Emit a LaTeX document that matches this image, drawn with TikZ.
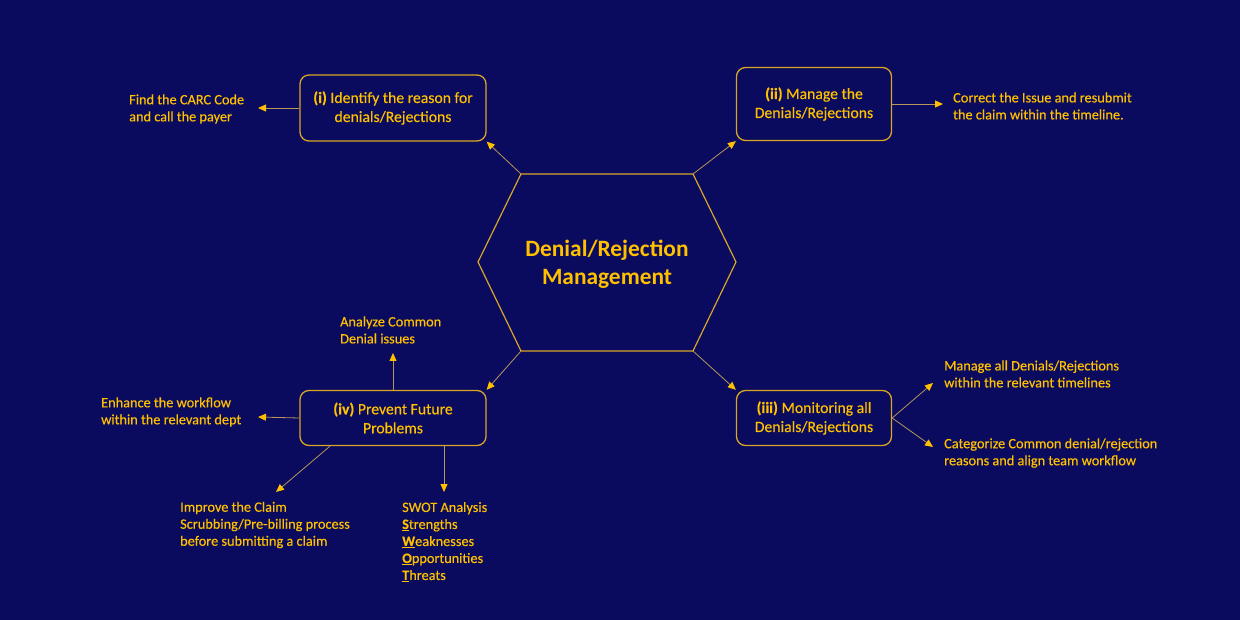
\documentclass[tikz,border=0pt]{standalone}
\usepackage{fontspec}
\setmainfont{Carlito}
\newfontfamily\heavyfont{Carlito}[FakeBold=0.35]
\usetikzlibrary{arrows.meta}
\tikzset{>={Triangle[length=8pt,width=7pt,color=gold]}}
\definecolor{navy}{HTML}{0A0A5E}
\definecolor{gold}{HTML}{FFC000}
\definecolor{rim}{HTML}{D9A626}
\definecolor{wire}{HTML}{B8975A}

\begin{document}
\begin{tikzpicture}[x=1pt,y=-1pt,
    box/.style = {draw=rim, line width=1.3pt, rounded corners=9pt, text=gold, align=center, inner sep=0pt, font=\heavyfont\fontsize{15.7}{19}\selectfont},
    leaf/.style = {text=gold, align=left, anchor=west, inner sep=0pt, font=\heavyfont\fontsize{14.3}{17}\selectfont},
    link/.style = {draw=wire, line width=0.8pt, ->}]
    \fill[navy] (0,0) rectangle (1240,620);
    \useasboundingbox (0,0) rectangle (1240,620);
    % centre hexagon
    \coordinate (h1) at (478,262);
    \coordinate (h2) at (521,174);
    \coordinate (h3) at (693,174);
    \coordinate (h4) at (736,262);
    \coordinate (h5) at (693,351);
    \coordinate (h6) at (521,351);
    \draw[rim, line width=1.2pt] (h1) -- (h2) -- (h3) -- (h4) -- (h5) -- (h6) -- cycle;
    \node[text=gold, align=center, font=\fontsize{23.4}{28}\selectfont\bfseries] (hub) at (607,264) {Denial/Rejection\\Management};
    % the four steps
    \node[box, minimum width=186pt, minimum height=66pt] (s1) at (393,108) {\textbf{(i)} Identify the reason for\\denials/Rejections};
    \node[box, minimum width=155pt, minimum height=73pt] (s2) at (814,104) {\textbf{(ii)} Manage the\\Denials/Rejections};
    \node[box, minimum width=155pt, minimum height=55pt] (s3) at (814,418) {\textbf{(iii)} Monitoring all\\Denials/Rejections};
    \node[box, minimum width=186pt, minimum height=55pt] (s4) at (393,418) {\textbf{(iv)} Prevent Future\\Problems};
    \draw[link] (h2) -- (s1.south east);
    \draw[link] (h3) -- (s2.south west);
    \draw[link] (h5) -- (s3.north west);
    \draw[link] (h6) -- (s4.north east);
    % actions
    \node[leaf] (a1) at (129,109) {Find the CARC Code\\and call the payer};
    \node[leaf] (b1) at (953,106) {Correct the Issue and resubmit\\the claim within the timeline.};
    \node[leaf] (c1) at (944,374) {Manage all Denials/Rejections\\within the relevant timelines};
    \node[leaf] (c2) at (944,453) {Categorize Common denial/rejection\\reasons and align team workflow};
    \node[leaf] (d1) at (340,330) {Analyze Common\\Denial issues};
    \node[leaf] (d2) at (101,412) {Enhance the workflow\\within the relevant dept};
    \node[leaf] (d3) at (180,525) {Improve the Claim\\Scrubbing/Pre-billing process\\before submitting a claim};
    \node[leaf] (d4) at (402,542) {SWOT Analysis\\\underline{\textbf{S}}trengths\\\underline{\textbf{W}}eaknesses\\\underline{\textbf{O}}pportunities\\\underline{\textbf{T}}hreats};
    \coordinate (e1) at (258,108);
    \coordinate (e2) at (943,104);
    \coordinate (e3) at (933,383);
    \coordinate (e4) at (933,447);
    \coordinate (e5) at (393,353);
    \coordinate (e6) at (258,417);
    \coordinate (e7) at (276,492);
    \coordinate (e8) at (444,492);
    \draw[link] (s1.west) -- (e1);
    \draw[link] (s2.east) -- (e2);
    \draw[link] (s3.east) -- (e3);
    \draw[link] (s3.east) -- (e4);
    \draw[link] (s4.north) -- (e5);
    \draw[link] (s4.west) -- (e6);
    \draw[link] (s4.south) ++(-63,0) -- (e7);
    \draw[link] (s4.south) ++(51,0) -- (e8);
\end{tikzpicture}
\end{document}
